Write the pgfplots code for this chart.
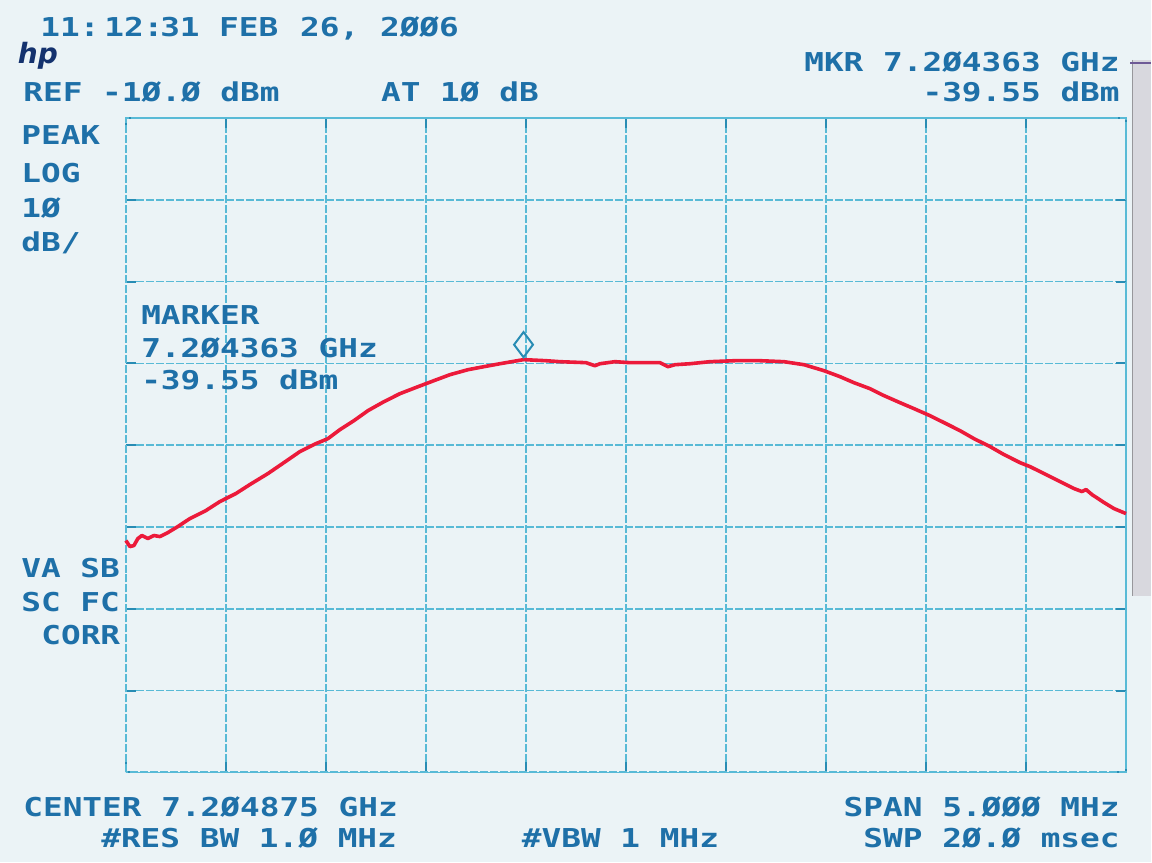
\documentclass[border=0pt]{standalone}
\usepackage{pgfplots}
\pgfplotsset{compat=1.18}
\usepackage{fontspec}
% printer font of the analyzer plot: wide monospaced capitals
\newfontfamily\lcd[FakeStretch=1.26]{DejaVu Sans Mono}
\newfontfamily\logofont{DejaVu Sans}
\definecolor{paper}{RGB}{235,243,246}
\definecolor{ink}{RGB}{30,112,168}
\definecolor{gridc}{RGB}{88,186,214}
\definecolor{tickc}{RGB}{40,140,180}
\definecolor{trace}{RGB}{236,26,58}
\definecolor{edge}{RGB}{216,216,222}

% swept response, frequency as offset from centre (MHz), level in dBm
\pgfplotstableread{
f      p
-2.500 -61.66
-2.480 -62.40
-2.460 -62.28
-2.440 -61.42
-2.420 -61.05
-2.390 -61.42
-2.360 -61.05
-2.330 -61.18
-2.290 -60.69
-2.240 -59.95
-2.180 -58.98
-2.100 -58.00
-2.030 -56.90
-1.950 -55.92
-1.880 -54.82
-1.790 -53.48
-1.710 -52.14
-1.630 -50.79
-1.550 -49.82
-1.490 -49.21
-1.430 -48.11
-1.360 -47.01
-1.290 -45.79
-1.210 -44.69
-1.130 -43.71
-1.040 -42.86
-0.960 -42.12
-0.880 -41.39
-0.790 -40.78
-0.710 -40.41
-0.630 -40.05
-0.512 -39.55
-0.400 -39.68
-0.330 -39.80
-0.200 -39.92
-0.155 -40.29
-0.130 -40.05
-0.055 -39.80
 0.020 -39.92
 0.170 -39.92
 0.210 -40.41
 0.245 -40.17
 0.320 -40.05
 0.420 -39.80
 0.545 -39.68
 0.670 -39.68
 0.790 -39.80
 0.890 -40.17
 0.990 -40.90
 1.070 -41.63
 1.140 -42.37
 1.220 -43.10
 1.290 -43.95
 1.370 -44.81
 1.440 -45.54
 1.520 -46.40
 1.590 -47.25
 1.670 -48.23
 1.740 -49.21
 1.820 -50.18
 1.890 -51.16
 1.970 -52.14
 2.020 -52.63
 2.090 -53.48
 2.170 -54.46
 2.240 -55.31
 2.280 -55.68
 2.300 -55.43
 2.330 -56.05
 2.390 -57.02
 2.440 -57.76
 2.500 -58.37
}\sweep

\begin{document}
\begin{tikzpicture}
% page in pixel units, origin top left
\begin{scope}[x=0.5pt,y=-0.5pt,shift={(0,431.5pt)}]
  \fill[paper] (0,0) rectangle (1152,863);
  \fill[edge] (1133,60) rectangle (1152,597);
  \draw[edge!70!black, line width=0.4pt] (1133,60) -- (1133,597);
  \draw[color={rgb,255:red,110;green,90;blue,150}, line width=1pt] (1131,63) -- (1152,63);
\end{scope}

\begin{axis}[
  at={(63pt,45pt)}, anchor=south west,
  width=500.5pt, height=327.5pt, scale only axis,
  xmin=-2.5, xmax=2.5, ymin=-90, ymax=-10,
  xtick distance=0.5, ytick distance=10,
  xticklabels={}, yticklabels={},
  grid=major,
  grid style={gridc, line width=0.8pt, dash pattern=on 4pt off 1pt},
  axis line style={gridc, line width=0.9pt, dash pattern=on 4pt off 1pt},
  tick align=inside, major tick length=5pt,
  tick style={tickc, line width=1pt},
  xtick pos=both, ytick pos=both,
  clip=false,
]
\addplot[trace, line width=1.8pt, line join=round] table[x=f, y=p] {\sweep};
% marker readout position
\addplot[only marks, mark=diamond, mark size=6.3pt, color=tickc,
  mark options={line width=1pt, fill=none, yshift=7.5pt}]
  coordinates {(-0.512,-39.55)};
\end{axis}

\begin{scope}[x=0.5pt,y=-0.5pt,shift={(0,431.5pt)},
  every node/.style={inner sep=0pt, text=ink, font=\lcd\bfseries\fontsize{13pt}{15pt}\selectfont}]
  % time stamp
  \node[anchor=base west] at (40,37) {11:};
  \node[anchor=base west] at (104,37) {12:};
  \node[anchor=base west] at (160,37) {31};
  \node[anchor=base west] at (219,37) {FEB};
  \node[anchor=base west] at (300,37) {26,};
  \node[anchor=base west] at (380,37) {2ØØ6};
  % logo
  \node[anchor=center, text={rgb,255:red,20;green,50;blue,110},
        font=\logofont\bfseries\itshape\fontsize{14pt}{14pt}\selectfont] at (38,56) {hp};
  % header
  \node[anchor=base west] at (23,102) {REF -1Ø.Ø dBm};
  \node[anchor=base west] at (381,102) {AT 1Ø dB};
  \node[anchor=base east] at (1121,72) {MKR 7.2Ø4363 GHz};
  \node[anchor=base east] at (1121,102) {-39.55 dBm};
  % left column
  \node[anchor=base west] at (21,145) {PEAK};
  \node[anchor=base west] at (21,183) {LOG};
  \node[anchor=base west] at (21,218) {1Ø};
  \node[anchor=base west] at (21,252) {dB/};
  \node[anchor=base west] at (21,578) {VA SB};
  \node[anchor=base west] at (21,612) {SC FC};
  \node[anchor=base west] at (41,645) {CORR};
  % marker readout
  \node[anchor=base west] at (141,325) {MARKER};
  \node[anchor=base west] at (141,358) {7.2Ø4363 GHz};
  \node[anchor=base west] at (141,390) {-39.55 dBm};
  % footer
  \node[anchor=base west] at (23,817) {CENTER 7.2Ø4875 GHz};
  \node[anchor=base west] at (101,848) {\#RES BW 1.Ø MHz};
  \node[anchor=base west] at (522,848) {\#VBW 1 MHz};
  \node[anchor=base east] at (1121,817) {SPAN 5.ØØØ MHz};
  \node[anchor=base east] at (1121,848) {SWP 2Ø.Ø msec};
\end{scope}
\end{tikzpicture}
\end{document}
